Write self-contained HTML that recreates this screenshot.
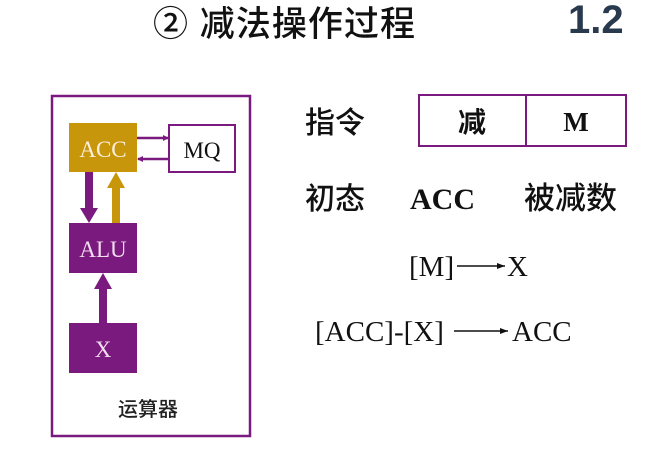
<!DOCTYPE html>
<html><head><meta charset="utf-8"><style>
html,body{margin:0;padding:0;background:#fff;width:652px;height:456px;overflow:hidden}
</style></head><body>
<svg width="652" height="456" viewBox="0 0 652 456" xmlns="http://www.w3.org/2000/svg">
<defs>
<marker id="ah" markerWidth="6" markerHeight="6" refX="5" refY="3" orient="auto" markerUnits="userSpaceOnUse"><path d="M0,0 L6,3 L0,6 z" fill="#7a1a7f"/></marker>
<marker id="ah2" markerWidth="8" markerHeight="8" refX="8" refY="4" orient="auto" markerUnits="userSpaceOnUse"><path d="M0,1 L8,4 L0,7 z" fill="#111"/></marker>
</defs>
<text x="153" y="36" font-family="Liberation Sans, Noto Sans CJK SC, sans-serif" font-size="35" font-weight="500" fill="#111" textLength="262">② 减法操作过程</text>
<text x="568" y="33" font-family="Liberation Sans, sans-serif" font-size="40" font-weight="bold" fill="#2a3a4e">1.2</text>

<rect x="52" y="96" width="198" height="340" fill="none" stroke="#7a1a7f" stroke-width="2.5"/>
<rect x="69" y="123" width="68" height="49" fill="#c8960a"/>
<text x="103" y="157" text-anchor="middle" font-family="Liberation Serif, serif" font-size="23" fill="#fbeede">ACC</text>
<rect x="169" y="125" width="66" height="47" fill="#fff" stroke="#7a1a7f" stroke-width="2"/>
<text x="202" y="158" text-anchor="middle" font-family="Liberation Serif, serif" font-size="23" fill="#111">MQ</text>
<line x1="137" y1="138" x2="168" y2="138" stroke="#7a1a7f" stroke-width="2.5" marker-end="url(#ah)"/>
<line x1="168" y1="159" x2="138" y2="159" stroke="#7a1a7f" stroke-width="2.5" marker-end="url(#ah)"/>
<rect x="69" y="223" width="68" height="50" fill="#7a1a7f"/>
<text x="103" y="257" text-anchor="middle" font-family="Liberation Serif, serif" font-size="23" fill="#f3dcef">ALU</text>
<rect x="69" y="323" width="68" height="50" fill="#7a1a7f"/>
<text x="103" y="357" text-anchor="middle" font-family="Liberation Serif, serif" font-size="23" fill="#f3dcef">X</text>
<rect x="85" y="172" width="8" height="38" fill="#7a1a7f"/>
<path d="M80,208 L98,208 L89,223 z" fill="#7a1a7f"/>
<rect x="112" y="186" width="8" height="37" fill="#c8960a"/>
<path d="M107,188 L125,188 L116,172 z" fill="#c8960a"/>
<rect x="99" y="287" width="8" height="36" fill="#7a1a7f"/>
<path d="M94,289 L112,289 L103,273 z" fill="#7a1a7f"/>
<text x="148" y="416" text-anchor="middle" font-family="Liberation Sans, Noto Sans CJK SC, sans-serif" font-size="20" font-weight="500" fill="#222">运算器</text>

<text x="305" y="133" font-family="Liberation Sans, Noto Sans CJK SC, sans-serif" font-size="30" font-weight="500" fill="#111">指令</text>
<rect x="419" y="95" width="207" height="51" fill="none" stroke="#7a1a7f" stroke-width="2"/>
<line x1="526" y1="95" x2="526" y2="146" stroke="#7a1a7f" stroke-width="2"/>
<text x="472" y="132" text-anchor="middle" font-family="Liberation Sans, Noto Sans CJK SC, sans-serif" font-size="28" font-weight="bold" fill="#111">减</text>
<text x="576" y="131" text-anchor="middle" font-family="Liberation Serif, serif" font-size="27" font-weight="bold" fill="#111">M</text>

<text x="305" y="209" font-family="Liberation Sans, Noto Sans CJK SC, sans-serif" font-size="30" font-weight="500" fill="#111">初态</text>
<text x="410" y="209" font-family="Liberation Serif, serif" font-size="30" font-weight="bold" fill="#111">ACC</text>
<text x="524" y="209" font-family="Liberation Sans, Noto Sans CJK SC, sans-serif" font-size="31" font-weight="500" fill="#111">被减数</text>

<text x="409" y="276" font-family="Liberation Serif, serif" font-size="29" fill="#111">[M]</text>
<line x1="457" y1="266" x2="505" y2="266" stroke="#111" stroke-width="1.5" marker-end="url(#ah2)"/>
<text x="507" y="276" font-family="Liberation Serif, serif" font-size="29" fill="#111">X</text>

<text x="315" y="341" font-family="Liberation Serif, serif" font-size="29" fill="#111">[ACC]-[X]</text>
<line x1="454" y1="331" x2="508" y2="331" stroke="#111" stroke-width="1.5" marker-end="url(#ah2)"/>
<text x="512" y="341" font-family="Liberation Serif, serif" font-size="29" fill="#111">ACC</text>
</svg>
</body></html>
